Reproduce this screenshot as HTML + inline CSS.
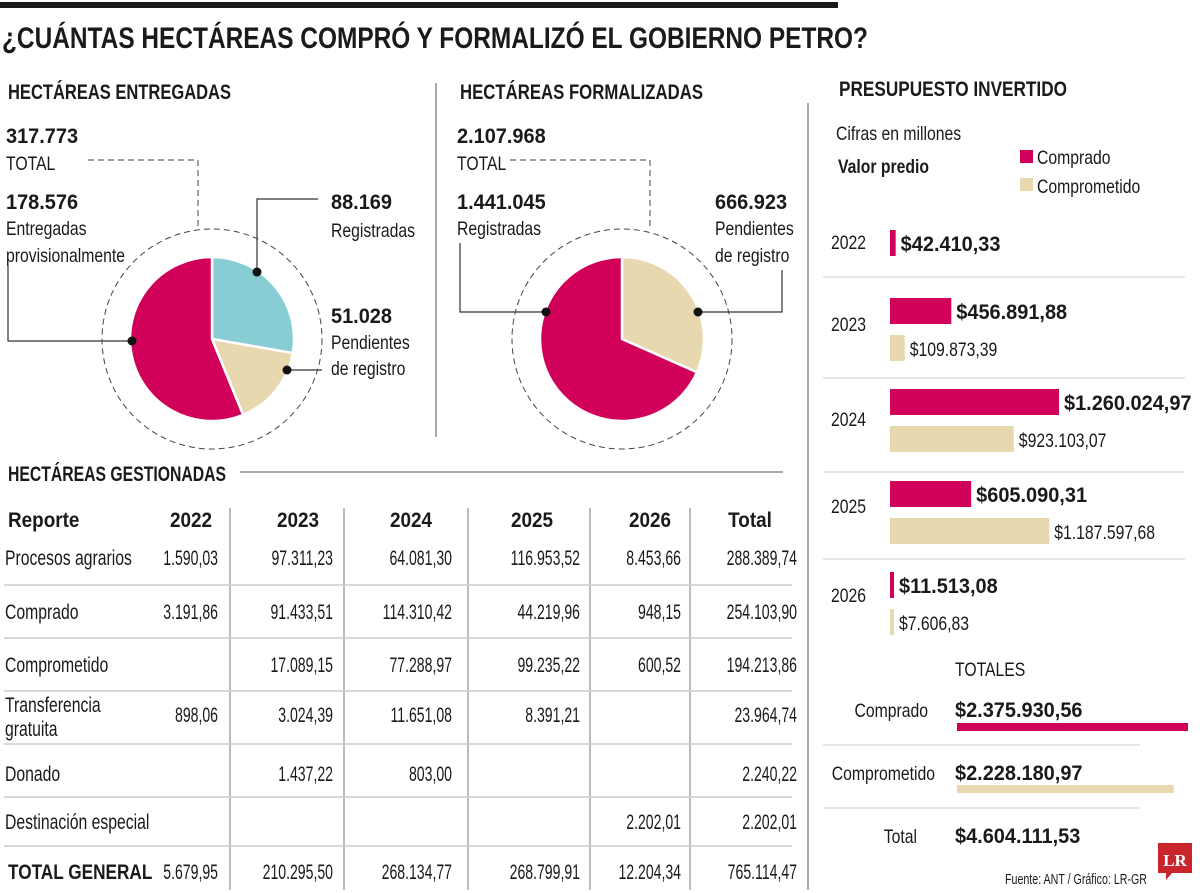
<!DOCTYPE html>
<html><head><meta charset="utf-8">
<style>
html,body{margin:0;padding:0;background:#fff;}
svg{display:block;}
text{font-family:"Liberation Sans Narrow","Liberation Sans",sans-serif;fill:#1a1a1a;}
.b{font-weight:bold;}
.h{font-weight:bold;font-size:21px;}
.n{font-size:21px;}
.t{font-size:19px;}
</style></head>
<body>
<svg id="chart" width="1200" height="893" viewBox="0 0 1200 893">
<rect x="0" y="2" width="838" height="6" fill="#1a1a1a"/>
<text x="2" y="48" font-size="30" class="b" textLength="866" lengthAdjust="spacingAndGlyphs">¿CUÁNTAS HECTÁREAS COMPRÓ Y FORMALIZÓ EL GOBIERNO PETRO?</text>

<text x="8" y="99" class="h" textLength="223" lengthAdjust="spacingAndGlyphs">HECTÁREAS ENTREGADAS</text>
<text x="460" y="99" class="h" textLength="243" lengthAdjust="spacingAndGlyphs">HECTÁREAS FORMALIZADAS</text>
<text x="839" y="96" class="h" textLength="228" lengthAdjust="spacingAndGlyphs">PRESUPUESTO INVERTIDO</text>
<line x1="436" y1="83" x2="436" y2="437" stroke="#555" stroke-width="1"/>
<line x1="808" y1="103" x2="808" y2="890" stroke="#555" stroke-width="1"/>

<g>
<text x="6" y="143" class="h">317.773</text>
<text x="6" y="170" class="t">TOTAL</text>
<text x="6" y="209" class="h">178.576</text>
<text x="6" y="235" class="t">Entregadas</text>
<text x="6" y="262" class="t">provisionalmente</text>
<text x="331" y="209" class="h">88.169</text>
<text x="331" y="237" class="t">Registradas</text>
<text x="331" y="323" class="h">51.028</text>
<text x="331" y="349" class="t">Pendientes</text>
<text x="331" y="375" class="t">de registro</text>
</g>
<g>
<text x="457" y="143" class="h">2.107.968</text>
<text x="457" y="170" class="t">TOTAL</text>
<text x="457" y="209" class="h">1.441.045</text>
<text x="457" y="235" class="t">Registradas</text>
<text x="715" y="209" class="h">666.923</text>
<text x="715" y="235" class="t">Pendientes</text>
<text x="715" y="262" class="t">de registro</text>
</g>
<g id="leaders" fill="none" stroke="#333" stroke-width="1.2">
<polyline points="88,160 198,160 198,228" stroke-dasharray="6,4" stroke="#666"/>
<polyline points="510,160 650,160 650,228" stroke-dasharray="6,4" stroke="#666"/>
<polyline points="257,272 257,199 318,199"/>
<polyline points="132,341 8,341 8,265"/>
<polyline points="287,370 322,370"/>
<polyline points="546,312 460,312 460,243"/>
<polyline points="698,312 782,312 782,270"/>
</g>
<g id="pies"></g>

<text x="836" y="140" class="t">Cifras en millones</text>
<text x="838" y="173" font-size="20" class="b t">Valor predio</text>
<rect x="1020" y="150" width="13" height="13" fill="#d10058"/>
<text x="1037" y="164" class="t">Comprado</text>
<rect x="1020" y="178" width="13" height="13" fill="#e8d8b0"/>
<text x="1037" y="193" class="t">Comprometido</text>
<g id="budget"></g>

<text x="955" y="676" class="t">TOTALES</text>
<text x="928" y="717" class="t" text-anchor="end">Comprado</text>
<text x="955" y="717" class="h">$2.375.930,56</text>
<line x1="823" y1="745" x2="1140" y2="745" stroke="#ccc"/>
<text x="935" y="780" class="t" text-anchor="end">Comprometido</text>
<text x="955" y="780" class="h">$2.228.180,97</text>
<line x1="823" y1="808" x2="1140" y2="808" stroke="#ccc"/>
<text x="917" y="843" class="t" text-anchor="end">Total</text>
<text x="955" y="843" class="h">$4.604.111,53</text>
<g id="totbars"></g>
<text x="1005" y="884" font-size="15" textLength="142" lengthAdjust="spacingAndGlyphs">Fuente: ANT / Gráfico: LR-GR</text>
<g>
<path d="M1158,843 H1192 V873 H1172 L1166,880 V873 H1158 Z" fill="#c8252c"/>
<text x="1175" y="866" font-size="17" text-anchor="middle" class="logo" style="font-family:'Liberation Serif',serif;fill:#fff;font-weight:bold">LR</text>
</g>

<text x="8" y="481" class="h" textLength="218" lengthAdjust="spacingAndGlyphs">HECTÁREAS GESTIONADAS</text>
<line x1="240" y1="472" x2="783" y2="472" stroke="#555"/>
<g id="table"></g>
</svg>
<script>
const entregadasLabels = ['Registradas','Pendientes de registro','Entregadas provisionalmente'];
const entregadasValues = [88169, 51028, 178576];
const formalizadasLabels = ['Pendientes de registro','Registradas'];
const formalizadasValues = [666923, 1441045];
const budgetYears = ['2022','2023','2024','2025','2026'];
const compradoValues = [42410.33, 456891.88, 1260024.97, 605090.31, 11513.08];
const comprometidoValues = [null, 109873.39, 923103.07, 1187597.68, 7606.83];
const compradoText = ['$42.410,33','$456.891,88','$1.260.024,97','$605.090,31','$11.513,08'];
const comprometidoText = ['','$109.873,39','$923.103,07','$1.187.597,68','$7.606,83'];
const totalsValues = [2375930.56, 2228180.97];
const tableHeaders = ['Reporte','2022','2023','2024','2025','2026','Total'];
const tableRowNames = ['Procesos agrarios','Comprado','Comprometido','Transferencia gratuita','Donado','Destinación especial','TOTAL GENERAL'];
const tableCells = [
 ['1.590,03','97.311,23','64.081,30','116.953,52','8.453,66','288.389,74'],
 ['3.191,86','91.433,51','114.310,42','44.219,96','948,15','254.103,90'],
 ['','17.089,15','77.288,97','99.235,22','600,52','194.213,86'],
 ['898,06','3.024,39','11.651,08','8.391,21','','23.964,74'],
 ['','1.437,22','803,00','','','2.240,22'],
 ['','','','','2.202,01','2.202,01'],
 ['5.679,95','210.295,50','268.134,77','268.799,91','12.204,34','765.114,47']
];

const NS='http://www.w3.org/2000/svg';
function mk(tag, attrs, parent){const e=document.createElementNS(NS,tag);for(const k in attrs)e.setAttribute(k,attrs[k]);parent.appendChild(e);return e;}
const MAG='#d10058', BEI='#e8d8b0', TEAL='#88ccd4';

const pies=document.getElementById('pies');
function drawPie(cx,cy,r,vals,cols,names){
  const c=mk('circle',{cx:cx,cy:cy,r:110,fill:'none',stroke:'#444','stroke-width':1,'stroke-dasharray':'6,4'},pies);
  
  
  const tot=vals.reduce((a,b)=>a+b,0);
  let a0=-Math.PI/2;
  vals.forEach((v,i)=>{
    const a1=a0+v/tot*2*Math.PI;
    const large=(a1-a0)>Math.PI?1:0;
    const d=`M${cx},${cy} L${cx+r*Math.cos(a0)},${cy+r*Math.sin(a0)} A${r},${r} 0 ${large} 1 ${cx+r*Math.cos(a1)},${cy+r*Math.sin(a1)} Z`;
    const p=mk('path',{d:d,fill:cols[i],stroke:'#fff','stroke-width':2.5,'stroke-linejoin':'round'},pies);
    
    
    a0=a1;
  });
}
drawPie(212,339,82,entregadasValues,[TEAL,BEI,MAG],entregadasLabels);
drawPie(622,339,82,formalizadasValues,[BEI,MAG],formalizadasLabels);
[[257,272],[132,341],[287,370],[546,312],[698,312]].forEach(p=>{
  const d=mk('circle',{cx:p[0],cy:p[1],r:4.5,fill:'#111'},pies);
  
  
});

const bg=document.getElementById('budget');
const bx0=890, bscale=169/1260024.97;
function bw(v){return Math.max(4,v*bscale);}
const compY=[230,298,389,481,572], yearY=[249,331,426,513,602];
[277,378,472,559].forEach(y=>{
  const l=mk('line',{x1:823,y1:y,x2:1185,y2:y,stroke:'#ccc'},bg);
  
  
});
budgetYears.forEach((yr,i)=>{
  const t=mk('text',{x:831,y:yearY[i],class:'t'},bg); t.textContent=yr;
  
  
  const y=compY[i], w=bw(compradoValues[i]);
  const r=mk('rect',{x:bx0,y:y,width:w,height:26,fill:MAG},bg);
  
  
  const lt=mk('text',{x:bx0+w+5,y:y+21,class:'h'},bg); lt.textContent=compradoText[i];
  
  
  if(comprometidoValues[i]!=null){
    const y2=y+37, w2=bw(comprometidoValues[i]);
    const r2=mk('rect',{x:bx0,y:y2,width:w2,height:26,fill:BEI},bg);
    
    
    const l2=mk('text',{x:bx0+w2+5,y:y2+21,class:'t'},bg); l2.textContent=comprometidoText[i];
    
    
  }
});
const tb=document.getElementById('totbars');
const tscale=231/2375930.56;
const r1=mk('rect',{x:957,y:723,width:totalsValues[0]*tscale,height:8,fill:MAG},tb);


const r2=mk('rect',{x:957,y:785,width:totalsValues[1]*tscale,height:8,fill:BEI},tb);



const tg=document.getElementById('table');
[230,344,468,590,690].forEach(x=>{
  const l=mk('line',{x1:x,y1:508,x2:x,y2:890,stroke:'#777'},tg);
  
  
});
[585,638,691,744,797,846].forEach(y=>{
  const l=mk('line',{x1:4,y1:y,x2:792,y2:y,stroke:'#ccc','stroke-width':1.5},tg);
  
  
});
const hdrX=[8,212,298,411,532,650,750], hdrAnchor=['start','end','middle','middle','middle','middle','middle'];
tableHeaders.forEach((h,i)=>{
  const t=mk('text',{x:hdrX[i],y:527,class:'h th','text-anchor':hdrAnchor[i]},tg); t.textContent=h;
  
  
});
const colRight=[218,333,452,580,681,797];
const rowY=[565,619,672,722,781,829,879];
tableRowNames.forEach((n,ri)=>{
  let t;
  if(n==='Transferencia gratuita'){
    t=mk('text',{x:5,y:712,class:'n tl'},tg);
    const s1=mk('tspan',{x:5,y:712},t); s1.textContent='Transferencia';
    const s2=mk('tspan',{x:5,y:736},t); s2.textContent='gratuita';
  } else {
    t=mk('text',{x:ri===6?8:5,y:rowY[ri],class:ri===6?'n b tb':'n tl'},tg); t.textContent=n;
  }
  
  
  tableCells[ri].forEach((c,ci)=>{
    if(!c)return;
    const v=mk('text',{x:colRight[ci],y:rowY[ri],class:'n','text-anchor':'end'},tg); v.textContent=c;
    
    
  });
});

document.querySelectorAll('#chart text').forEach(t=>{
  if(t.hasAttribute('textLength'))return;
  const c=(t.getAttribute('class')||'').split(' ');
  let s;
  if(c.includes('logo'))return;
  if(c.includes('th'))s=0.9;
  else if(c.includes('tb'))s=0.82;
  else if(c.includes('tl'))s=0.75;
  else if(c.includes('h'))s=0.95;
  else if(c.includes('t'))s=0.83;
  else if(c.includes('n'))s=0.67;
  else s=0.85;
  const x=parseFloat(t.getAttribute('x'))||0;
  t.setAttribute('transform',`translate(${x},0) scale(${s},1) translate(${-x},0)`);
});
</script>
</body></html>
